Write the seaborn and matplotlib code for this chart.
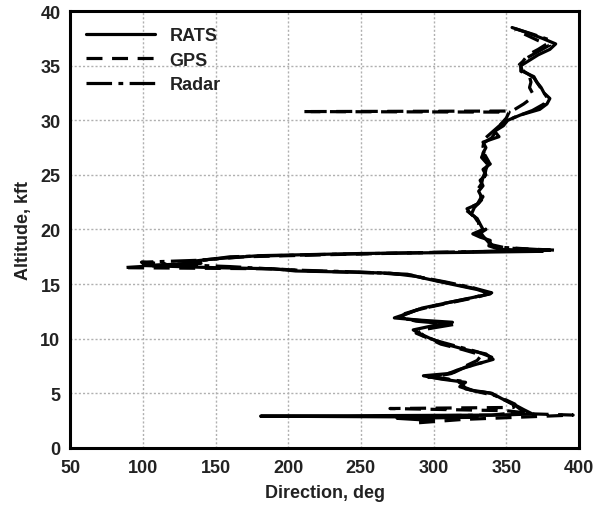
import matplotlib
matplotlib.use("Agg")
import matplotlib.pyplot as plt
import seaborn as sns
import pandas as pd

# ---- data ----
rats_alt = [2.5, 2.7, 2.8, 2.9, 3.0, 3.1, 3.5, 4.0, 4.5, 5.0, 5.3, 5.6, 6.0, 6.3, 6.6, 6.8,
            7.2, 7.6, 8.1, 8.6, 9.0, 9.5, 10.0, 10.5, 10.8, 11.2, 11.5, 11.7, 11.9, 12.3,
            12.8, 13.3, 13.8, 14.1, 14.5, 15.0, 15.4, 15.7, 16.0, 16.1, 16.2, 16.4, 16.5,
            16.6, 16.7, 16.9, 17.1, 17.3, 17.6, 17.8, 17.9, 18.0, 18.2, 18.5, 19.0, 19.3,
            19.6, 20.0, 20.5, 21.0, 21.5, 21.9, 22.3, 23.0, 23.5, 24.0, 24.5, 25.0, 25.5,
            26.0, 26.5, 27.0, 27.5, 28.0, 28.5, 29.0, 29.5, 30.0, 30.5, 31.0, 31.5, 32.0,
            32.5, 33.0, 33.5, 34.0, 34.5, 35.0, 35.5, 36.0, 36.5, 37.0, 37.5, 38.0, 38.5]
rats_dir = [300, 275, 330, 181, 345, 368, 362, 355, 347, 340, 325, 318, 322, 305, 293, 310,
            318, 328, 341, 336, 322, 308, 298, 290, 286, 300, 313, 290, 273, 282,
            292, 310, 328, 339, 330, 312, 298, 288, 270, 240, 205, 190, 150,
            125, 100, 140, 135, 148, 180, 250, 320, 375, 345, 338, 339, 332,
            327, 334, 332, 330, 325, 323, 330, 333, 331, 334, 332, 336, 334,
            339, 335, 334, 336, 334, 345, 342, 348, 351, 360, 373, 378, 380,
            376, 374, 371, 369, 361, 360, 366, 372, 380, 384, 375, 365, 354]

gps_alt = [2.3, 2.6, 3.0, 3.1, 3.4, 3.6, 3.7, 4.0, 4.5, 5.0, 5.4, 5.8, 6.2, 6.5, 6.8, 7.5,
           8.0, 8.5, 9.0, 9.5, 10.0, 10.5, 11.0, 11.4, 11.8, 12.2, 12.7, 13.3, 13.8, 14.1,
           14.6, 15.1, 15.5, 15.8, 16.0, 16.2, 16.4, 16.5, 16.7, 16.9, 17.2, 17.5, 17.7,
           17.9, 18.1, 18.3, 18.6, 19.1, 19.5, 20.0, 20.6, 21.2, 21.8, 22.4, 23.0, 23.6,
           24.2, 24.8, 25.4, 26.0, 26.6, 27.2, 27.8, 28.4, 29.0, 29.6, 30.2, 30.75, 30.8,
           30.85, 31.5, 32.0, 32.5, 33.0, 33.5, 34.0, 34.5, 35.0, 35.5, 36.0, 36.5, 37.0,
           37.3, 37.8, 38.3]
gps_dir = [290, 320, 396, 370, 350, 270, 355, 356, 348, 339, 322, 320, 315, 300, 312, 322,
           330, 333, 320, 305, 297, 288, 298, 312, 280, 278, 290, 312, 330, 338,
           328, 310, 295, 285, 265, 215, 190, 86, 110, 130, 140, 170, 230,
           300, 385, 350, 340, 337, 330, 336, 331, 328, 322, 331, 334, 330,
           333, 334, 336, 337, 333, 335, 333, 340, 343, 346, 350, 352, 210,
           354, 362, 367, 368, 366, 367, 366, 360, 360, 362, 365, 372, 378,
           372, 364, 356]

radar_alt = [2.9, 3.0, 3.3, 3.8, 4.3, 4.8, 5.2, 5.6, 6.1, 6.5, 6.9, 7.4, 7.9, 8.3, 8.8,
             9.3, 9.8, 10.3, 10.9, 11.3, 11.6, 12.0, 12.6, 13.2, 13.7, 14.2, 14.7, 15.2,
             15.6, 15.9, 16.1, 16.3, 16.6, 16.8, 17.0, 17.2, 17.5, 17.7, 17.9, 18.1, 18.4,
             18.8, 19.4, 20.0, 20.7, 21.4, 22.0, 22.7, 23.4, 24.1, 24.8, 25.5, 26.2, 26.9,
             27.6, 28.3, 29.0, 29.7, 30.3, 30.9, 31.5, 32.1, 32.7, 33.3, 33.9, 34.5, 35.1,
             35.7, 36.3, 36.9, 37.4, 37.9, 38.4]
radar_dir = [272, 340, 362, 357, 350, 342, 328, 320, 320, 296, 314, 322, 336, 340, 330,
             316, 302, 292, 296, 314, 288, 276, 288, 306, 325, 340, 326, 308,
             292, 282, 250, 200, 160, 120, 99, 143, 160, 220, 300, 380, 342,
             338, 334, 331, 331, 326, 328, 333, 332, 333, 335, 336, 338, 335,
             334, 335, 341, 347, 356, 368, 376, 378, 375, 372, 369, 362, 359,
             364, 372, 380, 379, 368, 356]

series_names = ["RATS", "GPS", "Radar"]

frames = []
for name, alt, d in [("RATS", rats_alt, rats_dir), ("GPS", gps_alt, gps_dir),
                     ("Radar", radar_alt, radar_dir)]:
    frames.append(pd.DataFrame({"alt": alt, "dir": d, "src": name}))
df = pd.concat(frames, ignore_index=True)

# ---- plot ----
sns.set_theme(style="white")
plt.rcParams["font.family"] = ["Liberation Sans", "DejaVu Sans"]

fig = plt.figure(figsize=(5.95, 5.06), dpi=100)
ax = fig.add_axes([0.118, 0.113, 0.855, 0.863])

styles = {"RATS": "-", "GPS": (0, (5, 3)), "Radar": (0, (8, 2, 1.5, 2))}
for name in series_names:
    sub = df[df["src"] == name]
    sns.lineplot(data=sub, x="dir", y="alt", sort=False, estimator=None,
                 color="black", linewidth=2.3, ax=ax, label=name,
                 linestyle=styles[name])

ax.set_xlim(50, 400)
ax.set_ylim(0, 40)
ax.set_xticks(range(50, 401, 50))
ax.set_yticks(range(0, 41, 5))
ax.grid(True, color="#b0b0b0", linestyle=(0, (1.5, 1.5)), linewidth=1.0)
ax.tick_params(axis="x", length=0, labelsize=13, pad=8)
ax.tick_params(axis="y", length=0, labelsize=13, pad=7)
for lab in ax.get_xticklabels() + ax.get_yticklabels():
    lab.set_fontweight("bold")
    lab.set_color("#222222")
for sp in ax.spines.values():
    sp.set_color("black")
    sp.set_linewidth(2.2)

ax.set_xlabel("Direction, deg", fontsize=13, fontweight="bold", color="#222222", labelpad=6)
ax.set_ylabel("Altitude, kft", fontsize=13, fontweight="bold", color="#222222", labelpad=6)

leg = ax.legend(loc="upper left", frameon=False, handlelength=3.8, fontsize=13,
                borderaxespad=0.5, labelspacing=0.4, handletextpad=0.8)
for t in leg.get_texts():
    t.set_fontweight("bold")
    t.set_color("#222222")

fig.savefig("out.png", dpi=100)
